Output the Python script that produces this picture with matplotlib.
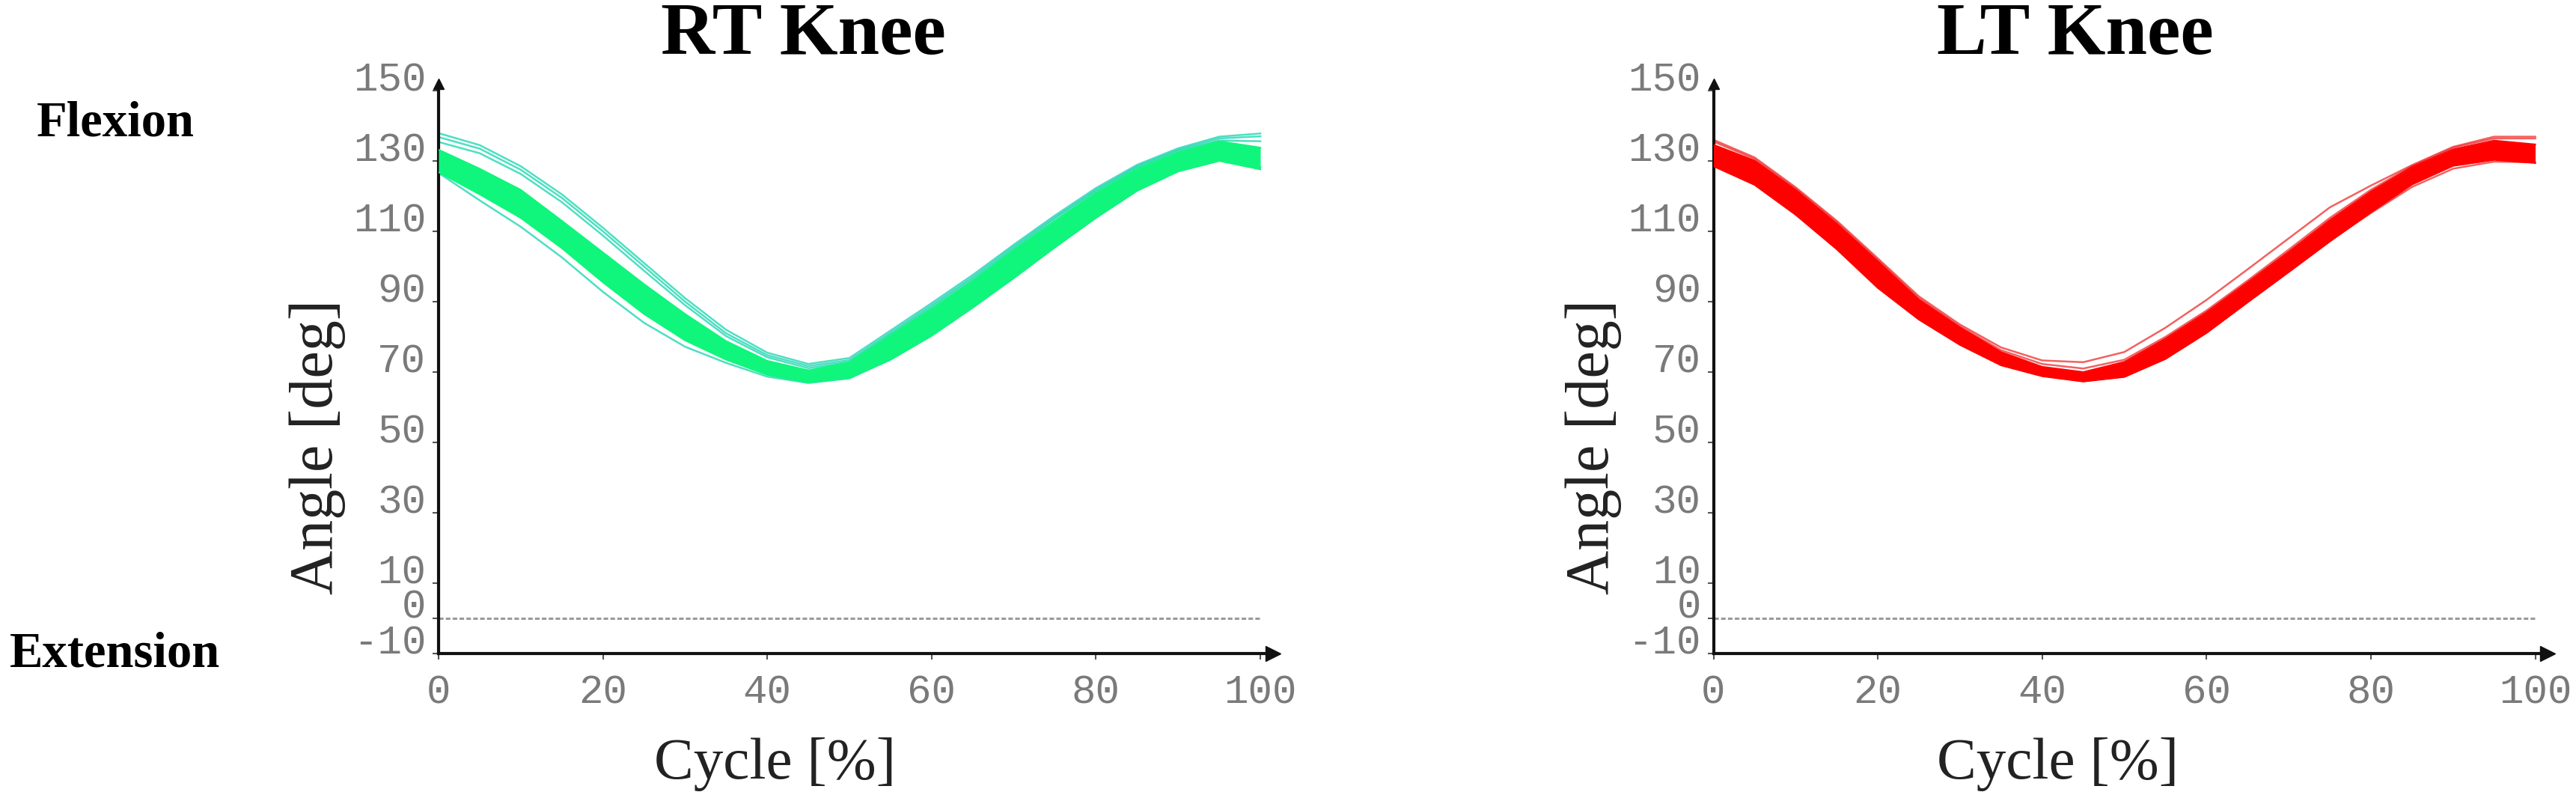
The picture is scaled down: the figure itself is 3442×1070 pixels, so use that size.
import matplotlib.pyplot as plt

# gait cycle sample points [%]
cycle = [0, 5, 10, 15, 20, 25, 30, 35, 40, 45, 50, 55, 60, 65, 70, 75, 80, 85, 90, 95, 100]

# RT knee: dense band of trials (upper / lower edge) and a few stray trials
rt_band_top = [133.2, 127.8, 121.8, 113.0, 104.0, 95.0, 86.5, 78.8, 73.2, 70.5, 72.8, 80.5, 88.0, 96.0, 104.8, 113.0, 121.0, 127.8, 132.5, 135.6, 133.8]
rt_band_bottom = [126.8, 120.5, 113.8, 105.2, 95.5, 86.5, 79.0, 73.5, 69.2, 67.0, 68.3, 73.5, 80.3, 88.3, 96.7, 105.4, 113.8, 121.5, 127.0, 130.0, 127.6]
rt_trial_a = [137.9, 134.5, 128.5, 120.5, 111.0, 101.0, 91.0, 82.0, 75.5, 72.3, 74.0, 81.8, 89.6, 97.6, 106.2, 114.5, 122.3, 128.9, 133.6, 136.9, 137.8]
rt_trial_b = [136.8, 133.5, 127.5, 119.5, 110.0, 100.0, 90.0, 81.0, 74.8, 71.7, 73.4, 81.2, 89.0, 97.0, 105.7, 114.0, 121.8, 128.5, 133.2, 136.4, 137.0]
rt_trial_c = [135.4, 132.2, 126.3, 118.3, 108.8, 98.8, 89.0, 80.2, 74.2, 71.1, 72.9, 80.7, 88.5, 96.5, 105.2, 113.6, 121.5, 128.2, 132.9, 135.8, 135.6]
rt_trial_d = [126.6, 118.8, 111.3, 102.6, 92.8, 84.0, 77.2, 72.6, 68.7, 66.9, 68.2, 73.6, 80.4, 88.4, 96.8, 105.6, 114.2, 122.0, 127.6, 130.4, 128.2]

# LT knee
lt_band_top = [134.6, 130.1, 121.8, 112.2, 101.5, 90.6, 82.7, 75.7, 71.5, 70.0, 72.9, 79.5, 87.0, 95.5, 104.2, 113.2, 121.3, 128.3, 133.3, 135.8, 134.7]
lt_band_bottom = [128.5, 123.2, 114.7, 104.9, 93.9, 84.9, 77.7, 71.9, 68.8, 67.3, 68.6, 73.7, 81.1, 89.8, 98.4, 107.1, 115.4, 123.3, 128.6, 130.3, 129.4]
lt_trial_a = [136.0, 131.0, 122.5, 113.0, 102.3, 91.5, 83.5, 77.0, 73.3, 72.8, 75.7, 82.6, 90.5, 99.2, 108.0, 116.8, 123.0, 128.8, 134.0, 136.9, 136.9]
lt_trial_b = [135.5, 130.6, 122.2, 112.6, 101.9, 91.0, 83.0, 76.2, 72.3, 71.0, 73.5, 80.0, 87.5, 96.0, 104.8, 113.8, 121.8, 128.6, 133.8, 136.4, 136.4]
lt_trial_c = [128.7, 123.4, 115.0, 105.2, 94.2, 85.2, 78.0, 72.2, 69.0, 67.4, 68.8, 73.9, 81.3, 90.0, 98.6, 107.3, 115.2, 122.6, 127.8, 129.8, 129.6]

yticks = [-10, 0, 10, 30, 50, 70, 90, 110, 130, 150]
xticks = [0, 20, 40, 60, 80, 100]

serif = ['Liberation Serif', 'DejaVu Serif']
mono = ['Liberation Mono', 'DejaVu Sans Mono']

W, H = 3442, 1070
fig = plt.figure(figsize=(W / 100, H / 100), dpi=100)


def knee_panel(x0, title, title_x, ylab_x, xlab_x, band_top, band_bottom, trials, band_color, trial_color):
    ax = fig.add_axes([x0 / W, 197 / H, 1114.5 / W, 761.4 / H])
    for t in trials:
        ax.plot(cycle, t, color=trial_color, lw=1.8, alpha=0.8, zorder=2)
    ax.fill_between(cycle, band_bottom, band_top, color=band_color, lw=0, zorder=3)
    ax.plot(cycle, band_top, color=band_color, lw=1.5, zorder=3)
    ax.plot(cycle, band_bottom, color=band_color, lw=1.5, zorder=3)
    ax.plot([0, 100], [0, 0], color='#9a9a9a', lw=2.2, ls=(0, (2, 1)), zorder=1)

    ax.set_xlim(0, 101.5)
    ax.set_ylim(-10, 152)
    ax.set_xticks(xticks)
    ax.set_yticks(yticks)
    ax.set_xticklabels([str(v) for v in xticks], family=mono, size=39, color='#7a7a7a')
    ax.set_yticklabels([str(v) for v in yticks], family=mono, size=39, color='#7a7a7a')
    for lab in ax.get_yticklabels():
        lab.set_va('baseline')
    ax.tick_params(axis='y', length=6, width=1.5, color='#555555', pad=6)
    ax.tick_params(axis='x', length=6, width=1.5, color='#555555', pad=14)

    for s in ['top', 'right']:
        ax.spines[s].set_visible(False)
    for s in ['left', 'bottom']:
        ax.spines[s].set_linewidth(3)
        ax.spines[s].set_color('#111111')
    ax.plot(1, -10, '>', color='#111111', ms=14, transform=ax.get_yaxis_transform(), clip_on=False)
    ax.plot(0, 1, '^', color='#111111', ms=10, transform=ax.get_xaxis_transform(), clip_on=False)

    fig.text(ylab_x / W, 1 - 597 / H, 'Angle [deg]', family=serif, size=59, color='#222222',
             rotation=90, ha='center', va='center')
    fig.text(xlab_x / W, 1 - 1021 / H, 'Cycle [%]', family=serif, size=57, color='#222222',
             ha='center', va='center')
    fig.text(title_x / W, 0.955, title, family=serif, weight='bold', size=72, ha='center', va='center')
    return ax


knee_panel(586, 'RT Knee', 1073, 424, 1036, rt_band_top, rt_band_bottom,
           [rt_trial_a, rt_trial_b, rt_trial_c, rt_trial_d], '#10F57C', '#22D8B2')
knee_panel(2289.5, 'LT Knee', 2773, 2129, 2750, lt_band_top, lt_band_bottom,
           [lt_trial_a, lt_trial_b, lt_trial_c], '#FF0000', '#F03A3A')

fig.text(154 / W, 1 - 165 / H, 'Flexion', family=serif, weight='bold', size=48, ha='center', va='center')
fig.text(154 / W, 1 - 874 / H, 'Extension', family=serif, weight='bold', size=48, ha='center', va='center')

fig.savefig('out.png', dpi=100, facecolor='white')
